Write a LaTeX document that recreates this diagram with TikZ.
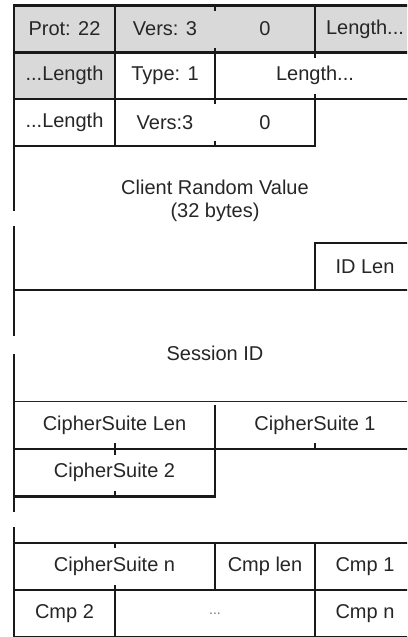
\documentclass[tikz,border=0pt]{standalone}
\usepackage{fontspec}
\setmainfont{Liberation Sans}
\begin{document}
\begin{tikzpicture}[x=1pt,y=-1pt,
  rule/.style={line width=2.4pt, draw=black!90, line cap=rect},
  thinrule/.style={line width=1.4pt, draw=black!85, line cap=rect},
  tick/.style={line width=2.4pt, draw=black!90},
  lbl/.style={font=\fontsize{20}{23}\selectfont, text=black!85, inner sep=0pt, align=center},
  shade/.style={fill=black!15}]
\useasboundingbox (0,0) rectangle (407,637);
\clip (0,0) rectangle (407,637);
\fill[white] (0,0) rectangle (407,637);

% shaded record-layer header
\fill[shade] (14,5.5) rectangle (415,52.5);
\fill[shade] (14,52.5) rectangle (115,99);

% horizontal rules
\draw[rule] (14,5.5) -- (415,5.5);
\draw[rule] (14,52.5) -- (415,52.5);
\draw[rule] (14,99) -- (415,99);
\draw[rule] (14,146) -- (315,146);
\draw[rule] (315,243) -- (415,243);
\draw[rule] (14,290) -- (415,290);
\draw[thinrule] (14,401.5) -- (415,401.5);
\draw[rule] (14,449) -- (415,449);
\draw[rule] (14,496.5) -- (215,496.5);
\draw[rule] (14,543) -- (415,543);
\draw[rule] (14,590) -- (415,590);
\draw[rule] (14,637) -- (415,637);

% left edge, broken where fields are abbreviated
\draw[rule] (14,5.5) -- (14,210);
\draw[rule] (14,227) -- (14,335);
\draw[rule] (14,355) -- (14,511);
\draw[rule] (14,528) -- (14,637);

% full column rules
\draw[rule] (115,5.5) -- (115,146);
\draw[rule] (315,5.5) -- (315,52.5);
\draw[rule] (215,52.5) -- (215,99);
\draw[rule] (315,99) -- (315,146);
\draw[rule] (315,243) -- (315,290);
\draw[rule] (215,406.5) -- (215,496.5);
\draw[rule] (215,543) -- (215,590);
\draw[rule] (315,543) -- (315,637);
\draw[rule] (115,590) -- (115,637);

% byte-boundary ticks inside multi-byte fields
\draw[tick] (215,5.5) -- ++(0,5);
\draw[tick] (215,52.5) -- ++(0,-5);
\draw[tick] (315,52.5) -- ++(0,5);
\draw[tick] (315,99) -- ++(0,-5);
\draw[tick] (215,99) -- ++(0,5);
\draw[tick] (215,146) -- ++(0,-5);
\draw[tick] (115,449) -- ++(0,-6);
\draw[tick] (115,449) -- ++(0,6);
\draw[tick] (315,449) -- ++(0,-6);
\draw[tick] (115,496.5) -- ++(0,-6);
\draw[tick] (115,543) -- ++(0,5);
\draw[tick] (115,590) -- ++(0,-5);

% field labels
\node[lbl] (prot)   at (64.5,29)   {Prot: 22};
\node[lbl] (vers)   at (165,29)    {Vers: 3};
\node[lbl] (zero)   at (265,29)    {0};
\node[lbl] (lenA)   at (365,29)    {Length...};
\node[lbl] (lenB)   at (64.5,75.75) {...Length};
\node[lbl] (type)   at (165,75.75) {Type: 1};
\node[lbl] (lenC)   at (315,75.75) {Length...};
\node[lbl] (lenD)   at (64.5,122.5) {...Length};
\node[lbl] (versB)  at (165,122.5) {Vers:3};
\node[lbl] (zeroB)  at (265,122.5) {0};
\node[lbl] (random) at (215,201)   {Client Random Value\\(32 bytes)};
\node[lbl] (idlen)  at (365,266.5) {ID Len};
\node[lbl] (sessid) at (215,353)   {Session ID};
\node[lbl] (cslen)  at (114.5,425.25) {CipherSuite Len};
\node[lbl] (csA)    at (315,425.25) {CipherSuite 1};
\node[lbl] (csB)    at (114.5,472.75) {CipherSuite 2};
\node[lbl] (csN)    at (114.5,566.5) {CipherSuite n};
\node[lbl] (cmplen) at (265,566.5) {Cmp len};
\node[lbl] (cmpA)   at (365,566.5) {Cmp 1};
\node[lbl] (cmpB)   at (64.5,613.5) {Cmp 2};
\node[lbl, font=\fontsize{14}{16}\selectfont, text=black!55] (dots) at (215,613.5) {...};
\node[lbl] (cmpN)   at (365,613.5) {Cmp n};
\end{tikzpicture}
\end{document}
